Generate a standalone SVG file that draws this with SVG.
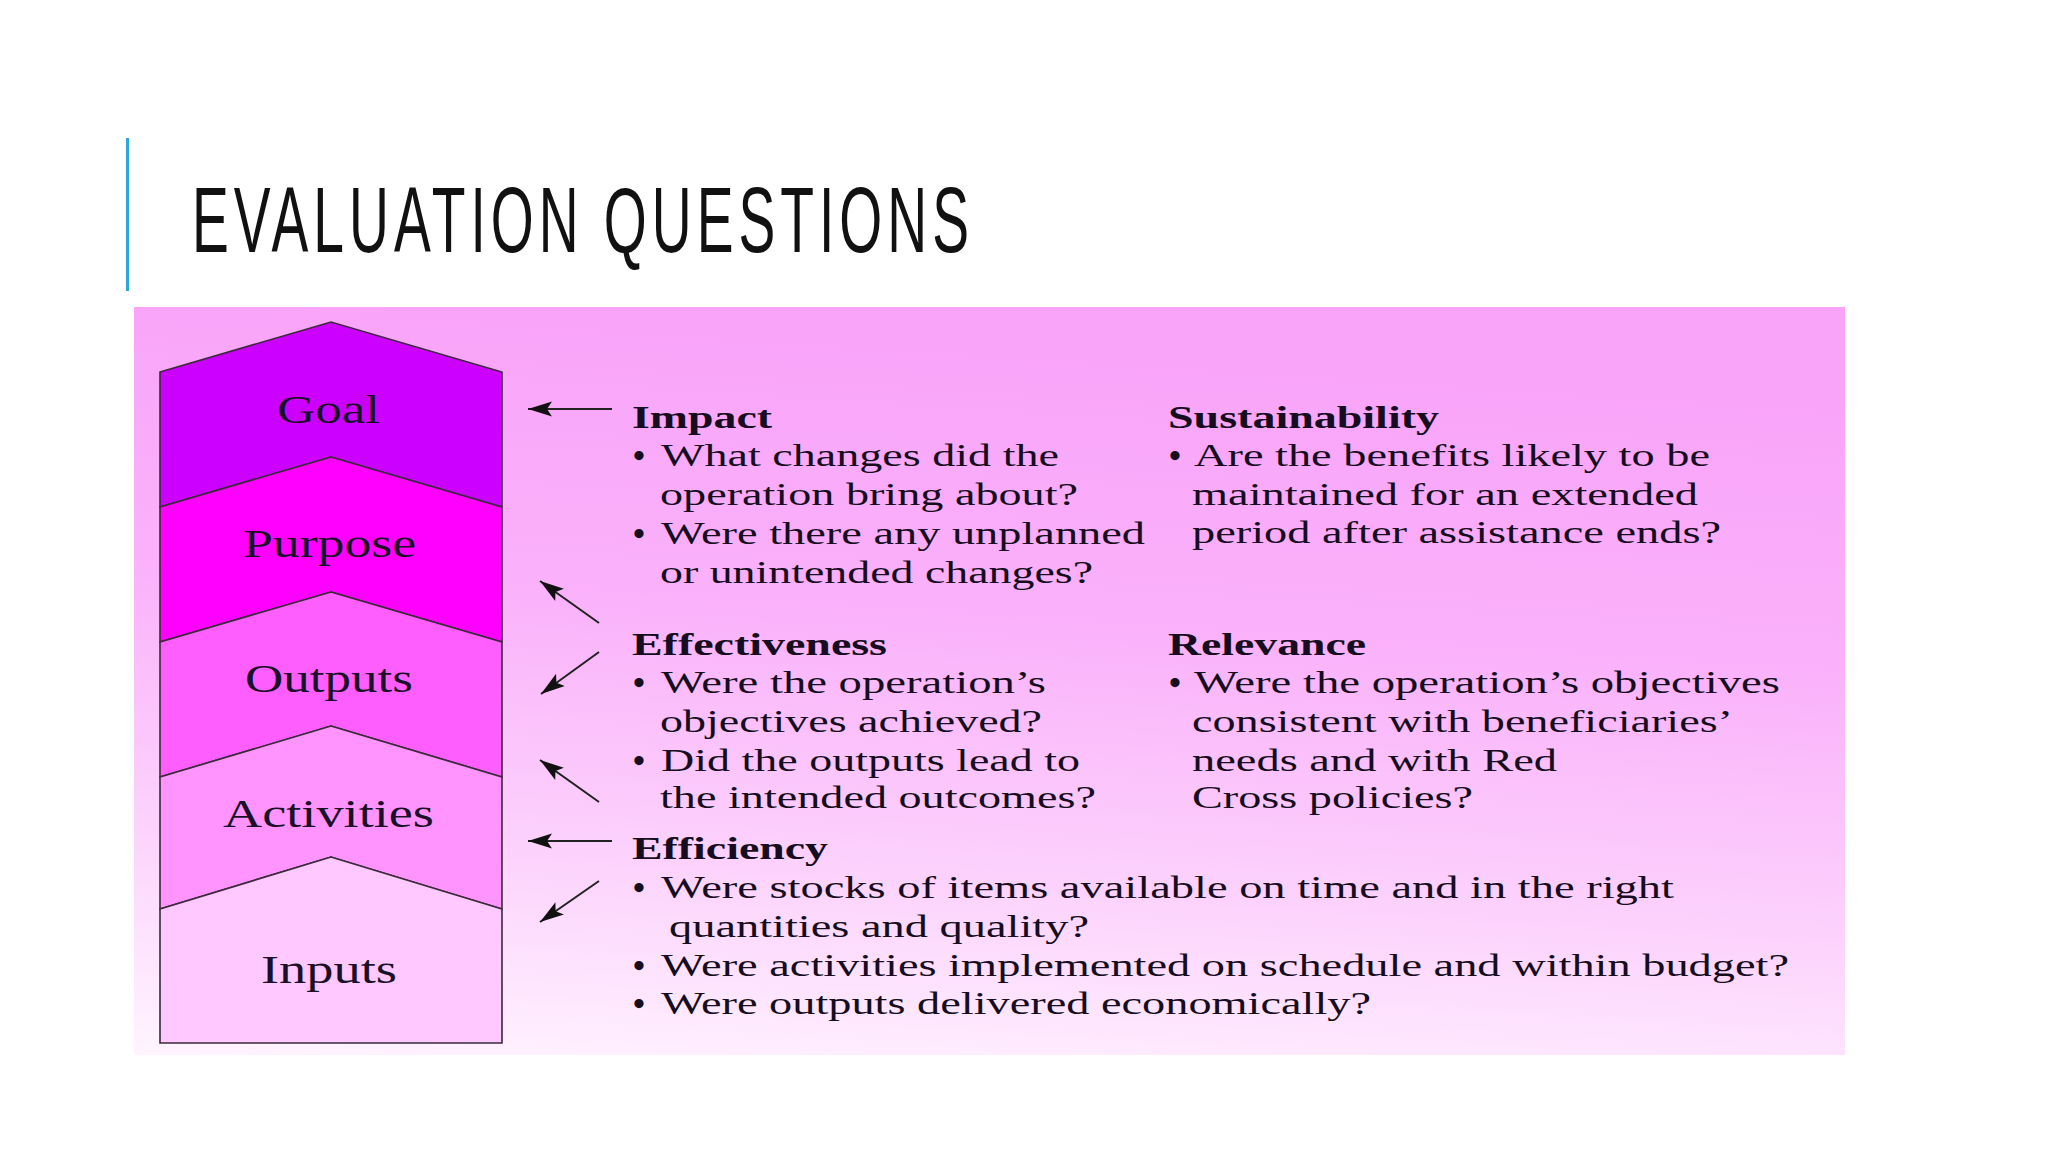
<svg xmlns="http://www.w3.org/2000/svg" width="2048" height="1152" viewBox="0 0 2048 1152">
  <defs>
    <linearGradient id="panelGrad" x1="0.15" y1="0" x2="0" y2="1">
      <stop offset="0" stop-color="#F9A4F9"/>
      <stop offset="0.35" stop-color="#FAB1FA"/>
      <stop offset="0.7" stop-color="#FCD2FC"/>
      <stop offset="1" stop-color="#FFF4FF"/>
    </linearGradient>
    <marker id="arrowHead" markerUnits="userSpaceOnUse" markerWidth="26" markerHeight="18" refX="24" refY="9" orient="auto">
      <path d="M0,1.5 L24,9 L0,16.5 L5,9 Z" fill="#111"/>
    </marker>
  </defs>
  <style>
    .title { font-family: "Liberation Sans", "DejaVu Sans", sans-serif; font-size: 92px; fill: #111; }
    .layer { stroke: #3a2a3a; stroke-width: 1.6; stroke-linejoin: miter; }
    .lbl { font-family: "Liberation Serif", "DejaVu Serif", serif; font-size: 41px; fill: #1a1028; }
    .hd { font-family: "Liberation Serif", "DejaVu Serif", serif; font-size: 31px; font-weight: bold; fill: #160d20; }
    .tx { font-family: "Liberation Serif", "DejaVu Serif", serif; font-size: 31px; fill: #160d20; }
    .bl { font-family: "Liberation Serif", "DejaVu Serif", serif; font-size: 34px; font-weight: bold; fill: #160d20; }
    .conn { stroke: #222; stroke-width: 2; fill: none; marker-end: url(#arrowHead); }
  </style>

  <rect x="0" y="0" width="2048" height="1152" fill="#ffffff"/>

  <g id="title">
    <rect x="126" y="138" width="3" height="153" fill="#2EA6DC"/>
    <text class="title" transform="translate(192,252) scale(0.6,1)" x="0" y="0" textLength="1295" lengthAdjust="spacing">EVALUATION QUESTIONS</text>
  </g>

  <rect id="panel" x="134" y="307" width="1711" height="748" fill="url(#panelGrad)"/>

  <g id="node-goal">
    <polygon class="layer" fill="#CC00FF" points="160,372 331,322 502,372 502,507 331,457 160,507"/>
    <text class="lbl" x="277" y="423" textLength="103" lengthAdjust="spacingAndGlyphs">Goal</text>
  </g>
  <g id="node-purpose">
    <polygon class="layer" fill="#FF00FF" points="160,507 331,457 502,507 502,642 331,592 160,642"/>
    <text class="lbl" x="243" y="557" textLength="173" lengthAdjust="spacingAndGlyphs">Purpose</text>
  </g>
  <g id="node-outputs">
    <polygon class="layer" fill="#FF5EFF" points="160,642 331,592 502,642 502,777 331,726 160,777"/>
    <text class="lbl" x="245" y="692" textLength="168" lengthAdjust="spacingAndGlyphs">Outputs</text>
  </g>
  <g id="node-activities">
    <polygon class="layer" fill="#FF94FF" points="160,777 331,726 502,777 502,909 331,857 160,909"/>
    <text class="lbl" x="223" y="827" textLength="211" lengthAdjust="spacingAndGlyphs">Activities</text>
  </g>
  <g id="node-inputs">
    <polygon class="layer" fill="#FFC8FF" points="160,909 331,857 502,909 502,1043 160,1043"/>
    <text class="lbl" x="261" y="983" textLength="136" lengthAdjust="spacingAndGlyphs">Inputs</text>
  </g>

  <g id="connectors">
    <line class="conn" x1="612" y1="409" x2="528" y2="409"/>
    <line class="conn" x1="599" y1="623" x2="540" y2="581"/>
    <line class="conn" x1="599" y1="652" x2="541" y2="694"/>
    <line class="conn" x1="599" y1="802" x2="540" y2="760"/>
    <line class="conn" x1="612" y1="841" x2="528" y2="841"/>
    <line class="conn" x1="599" y1="881" x2="540" y2="922"/>
  </g>

  <g id="node-impact">
    <text class="hd" x="632" y="428" textLength="140" lengthAdjust="spacingAndGlyphs">Impact</text>
    <text class="bl" x="633" y="467">•</text>
    <text class="tx" x="661" y="466" textLength="398" lengthAdjust="spacingAndGlyphs">What changes did the</text>
    <text class="tx" x="660" y="505" textLength="418" lengthAdjust="spacingAndGlyphs">operation bring about?</text>
    <text class="bl" x="633" y="545">•</text>
    <text class="tx" x="661" y="544" textLength="484" lengthAdjust="spacingAndGlyphs">Were there any unplanned</text>
    <text class="tx" x="660" y="583" textLength="433" lengthAdjust="spacingAndGlyphs">or unintended changes?</text>
  </g>

  <g id="node-sustainability">
    <text class="hd" x="1168" y="428" textLength="271" lengthAdjust="spacingAndGlyphs">Sustainability</text>
    <text class="bl" x="1169" y="467">•</text>
    <text class="tx" x="1194" y="466" textLength="516" lengthAdjust="spacingAndGlyphs">Are the benefits likely to be</text>
    <text class="tx" x="1192" y="505" textLength="506" lengthAdjust="spacingAndGlyphs">maintained for an extended</text>
    <text class="tx" x="1192" y="543" textLength="529" lengthAdjust="spacingAndGlyphs">period after assistance ends?</text>
  </g>

  <g id="node-effectiveness">
    <text class="hd" x="632" y="655" textLength="255" lengthAdjust="spacingAndGlyphs">Effectiveness</text>
    <text class="bl" x="633" y="694">•</text>
    <text class="tx" x="661" y="693" textLength="385" lengthAdjust="spacingAndGlyphs">Were the operation’s</text>
    <text class="tx" x="660" y="732" textLength="382" lengthAdjust="spacingAndGlyphs">objectives achieved?</text>
    <text class="bl" x="633" y="772">•</text>
    <text class="tx" x="661" y="771" textLength="419" lengthAdjust="spacingAndGlyphs">Did the outputs lead to</text>
    <text class="tx" x="660" y="808" textLength="436" lengthAdjust="spacingAndGlyphs">the intended outcomes?</text>
  </g>

  <g id="node-relevance">
    <text class="hd" x="1168" y="655" textLength="198" lengthAdjust="spacingAndGlyphs">Relevance</text>
    <text class="bl" x="1169" y="694">•</text>
    <text class="tx" x="1194" y="693" textLength="586" lengthAdjust="spacingAndGlyphs">Were the operation’s objectives</text>
    <text class="tx" x="1192" y="732" textLength="541" lengthAdjust="spacingAndGlyphs">consistent with beneficiaries’</text>
    <text class="tx" x="1192" y="771" textLength="365" lengthAdjust="spacingAndGlyphs">needs and with Red</text>
    <text class="tx" x="1192" y="808" textLength="281" lengthAdjust="spacingAndGlyphs">Cross policies?</text>
  </g>

  <g id="node-efficiency">
    <text class="hd" x="632" y="859" textLength="196" lengthAdjust="spacingAndGlyphs">Efficiency</text>
    <text class="bl" x="633" y="899">•</text>
    <text class="tx" x="661" y="898" textLength="1013" lengthAdjust="spacingAndGlyphs">Were stocks of items available on time and in the right</text>
    <text class="tx" x="669" y="937" textLength="420" lengthAdjust="spacingAndGlyphs">quantities and quality?</text>
    <text class="bl" x="633" y="977">•</text>
    <text class="tx" x="661" y="976" textLength="1128" lengthAdjust="spacingAndGlyphs">Were activities implemented on schedule and within budget?</text>
    <text class="bl" x="633" y="1015">•</text>
    <text class="tx" x="661" y="1014" textLength="710" lengthAdjust="spacingAndGlyphs">Were outputs delivered economically?</text>
  </g>
</svg>
